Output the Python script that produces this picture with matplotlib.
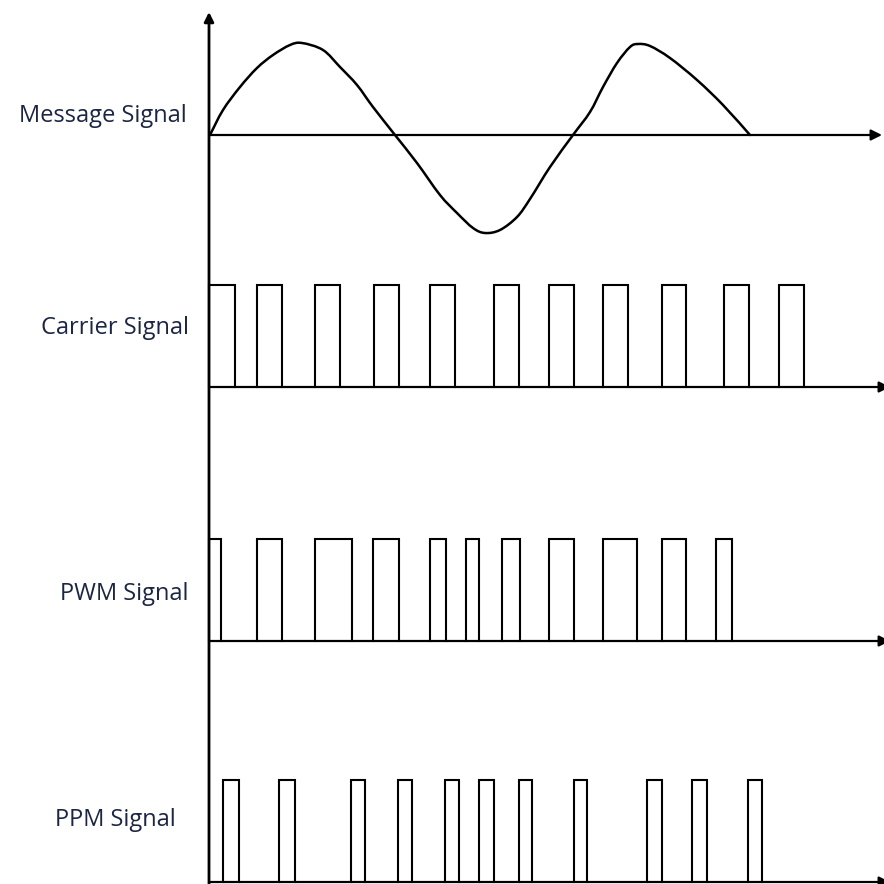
"""
PWM / PPM illustration: message signal, carrier pulse train, PWM and PPM
pulse trains drawn on a shared time axis.
"""

import matplotlib
matplotlib.use("Agg")
import matplotlib.pyplot as plt
from matplotlib.path import Path
from matplotlib.patches import PathPatch

# ── data (time measured from the vertical axis) ──────────────────────────────

# message signal: time and amplitude
message_t = [1, 14, 31, 48, 64, 81, 93, 114, 131, 148, 164, 186,
             208, 231, 248, 264, 276, 291, 308, 321, 341, 364, 381, 394,
             408, 421, 429, 441, 461, 488, 514, 541]
message_amp = [0, 25, 48, 67, 80, 90, 92, 85, 68, 50, 28, 0,
               -28, -60, -78, -93, -98, -95, -82, -64, -32, 0, 23, 48,
               72, 88, 91, 89, 77, 55, 30, 0]

# carrier: evenly clocked pulses of equal width
carrier_start = [0, 48, 106, 165, 221, 285, 340, 394, 453, 515, 570]
carrier_end = [26, 73, 131, 190, 246, 310, 365, 419, 477, 540, 595]

# PWM: same leading edges, width follows the message
pwm_start = [0, 48, 106, 164, 221, 257, 293, 340, 394, 453, 507]
pwm_end = [12, 73, 143, 190, 237, 270, 311, 365, 428, 477, 523]

# PPM: narrow pulses, position follows the message
ppm_start = [14, 70, 142, 189, 236, 270, 310, 365, 438, 483, 539]
ppm_end = [30, 86, 156, 203, 250, 285, 323, 378, 453, 498, 553]

labels = ["Message Signal", "Carrier Signal", "PWM Signal", "PPM Signal"]

# ── layout (figure pixels, y downwards) ──────────────────────────────────────
ORIGIN_X = 209
BASE_Y = [135, 387, 641, 882]
PULSE_H = 102
LABEL_X = [187, 189, 189, 176]
LABEL_BASE = [122, 334, 600, 826]
INK = "black"
TEXT_COLOR = "#1c2644"

plt.rcParams["font.family"] = ["Open Sans", "DejaVu Sans"]

fig = plt.figure(figsize=(8.84, 8.84), dpi=100)
ax = fig.add_axes([0, 0, 1, 1])
ax.set_xlim(0, 884)
ax.set_ylim(884, 0)
ax.axis("off")


def arrow(x0, y0, x1, y1, lw, scale):
    ax.annotate("", xy=(x1, y1), xytext=(x0, y0), annotation_clip=False,
                arrowprops=dict(arrowstyle="-|>", color=INK, lw=lw,
                                mutation_scale=scale, shrinkA=0, shrinkB=0))


def pulse_train(starts, ends, base):
    xs, ys = [], []
    for s, e in zip(starts, ends):
        xs += [ORIGIN_X + s, ORIGIN_X + s, ORIGIN_X + e, ORIGIN_X + e, None]
        ys += [base, base - PULSE_H, base - PULSE_H, base, None]
    ax.plot(xs, ys, color=INK, lw=1.5, solid_joinstyle="miter")


def smooth_curve(xs, ys):
    # Catmull-Rom through the read points, drawn as cubic Bezier segments
    pts = list(zip(xs, ys))
    verts = [pts[0]]
    codes = [Path.MOVETO]
    for i in range(len(pts) - 1):
        p0 = pts[max(i - 1, 0)]
        p1, p2 = pts[i], pts[i + 1]
        p3 = pts[min(i + 2, len(pts) - 1)]
        c1 = (p1[0] + (p2[0] - p0[0]) / 6, p1[1] + (p2[1] - p0[1]) / 6)
        c2 = (p2[0] - (p3[0] - p1[0]) / 6, p2[1] - (p3[1] - p1[1]) / 6)
        verts += [c1, c2, p2]
        codes += [Path.CURVE4] * 3
    ax.add_patch(PathPatch(Path(verts, codes), fill=False, edgecolor=INK,
                           lw=1.8, capstyle="round", joinstyle="round"))


# vertical axis and time axes
arrow(ORIGIN_X, 884, ORIGIN_X, 12, 2.0, 14)
arrow(ORIGIN_X, BASE_Y[0], 882, BASE_Y[0], 1.6, 16)
for base in BASE_Y[1:]:
    arrow(ORIGIN_X, base, 890, base, 1.6, 16)

# message signal
smooth_curve([ORIGIN_X + t for t in message_t],
             [BASE_Y[0] - a for a in message_amp])

pulse_train(carrier_start, carrier_end, BASE_Y[1])
pulse_train(pwm_start, pwm_end, BASE_Y[2])
pulse_train(ppm_start, ppm_end, BASE_Y[3])

for text, lx, ly in zip(labels, LABEL_X, LABEL_BASE):
    ax.text(lx, ly, text, ha="right", va="baseline", fontsize=17,
            fontweight="medium", color=TEXT_COLOR)

fig.savefig("out.png", dpi=100, facecolor="white")
